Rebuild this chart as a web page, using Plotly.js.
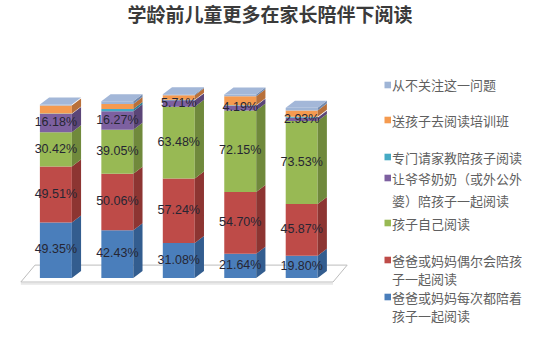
<!DOCTYPE html>
<html>
<head>
<meta charset="utf-8">
<script src="https://cdn.plot.ly/plotly-3.0.1.min.js"></script>
<style>html,body{margin:0;padding:0;background:#fff;}#chart{width:540px;height:352px;}</style>
</head>
<body>
<div id="chart"></div>
<script>
// ---- data ----
const categories = ['0至3岁', '4至6岁', '7至9岁', '10至12岁', '12岁以上'];
const seriesNames = [
  '爸爸或妈妈每次都陪着<br>孩子一起阅读',
  '爸爸或妈妈偶尔会陪孩<br>子一起阅读',
  '孩子自己阅读',
  '让爷爷奶奶（或外公外<br>婆）陪孩子一起阅读',
  '专门请家教陪孩子阅读',
  '送孩子去阅读培训班',
  '从不关注这一问题'
];
const everyTime   = [49.35, 42.43, 31.08, 21.64, 19.80];
const sometimes   = [49.51, 50.06, 57.24, 54.70, 45.87];
const selfRead    = [30.42, 39.05, 63.48, 72.15, 73.53];
const grandparent = [16.18, 16.27, 5.71, 4.19, 2.93];
const tutor       = [0.5, 2.0, 0.5, 0.5, 0.8];      // estimated (unlabelled)
const training    = [7.0, 4.5, 4.0, 8.0, 5.5];      // estimated (unlabelled)
const noCare      = [0.8, 2.5, 1.0, 1.5, 2.5];      // estimated (unlabelled)
const labelled    = [true, true, true, true, false, false, false];

// ---- styling ----
const series = [everyTime, sometimes, selfRead, grandparent, tutor, training, noCare];
const frontColors = ['#4a7ebb', '#be4b48', '#98b954', '#7d60a0', '#46aac4', '#f59a4f', '#9fb5d6'];
const sideColors  = ['#335d8f', '#8d3532', '#70893c', '#5b4577', '#2f7e93', '#b8703a', '#7289ad'];
const topColor = '#a3b7d8';
const W = 0.52, DX = 0.15, DY = 6.2;

const n = categories.length;
const idx = categories.map((c, i) => i);
const traces = [];
const cum = idx.map(() => 0);
const lx = [], ly = [], lt = [];

series.forEach((vals, s) => {
  const bases = cum.slice();
  traces.push({
    type: 'bar', x: idx, y: vals, base: bases, width: W,
    marker: {color: frontColors[s], line: {width: 0}},
    hoverinfo: 'skip', showlegend: false
  });
  const px = [], py = [];
  vals.forEach((v, i) => {
    const xr = i + W / 2, b = bases[i];
    px.push(xr, xr + DX, xr + DX, xr, xr, null);
    py.push(b, b + DY, b + v + DY, b + v, b, null);
    if (labelled[s]) { lx.push(i); ly.push(b + v / 2); lt.push(v.toFixed(2) + '%'); }
    cum[i] = b + v;
  });
  traces.push({
    type: 'scatter', mode: 'lines', x: px, y: py, fill: 'toself',
    fillcolor: sideColors[s], line: {width: 0}, hoverinfo: 'skip', showlegend: false
  });
});
// top faces
const tx = [], ty = [];
cum.forEach((t, i) => {
  tx.push(i - W / 2, i - W / 2 + DX, i + W / 2 + DX, i + W / 2, i - W / 2, null);
  ty.push(t, t + DY, t + DY, t, t, null);
});
traces.push({type: 'scatter', mode: 'lines', x: tx, y: ty, fill: 'toself',
  fillcolor: topColor, line: {width: 0}, hoverinfo: 'skip', showlegend: false});
// value labels
traces.push({type: 'scatter', mode: 'text', x: lx, y: ly, text: lt,
  textfont: {family: 'Liberation Sans, Arial, sans-serif', size: 12.5, color: '#262633'},
  hoverinfo: 'skip', showlegend: false, cliponaxis: false});

// ---- layout ----
const L = 19, R = 183, T = 75, B = 57, PW = 540 - L - R, PH = 352 - T - B;
const pxX = p => (p - L) / PW;
const pxY = p => (352 - B - p) / PH;

const annotations = categories.map((c, i) => ({
  x: i - 0.1, y: -19, xref: 'x', yref: 'y', text: c, showarrow: false,
  font: {family: 'Noto Sans CJK SC, sans-serif', size: 13, color: '#404040'}
}));
const shapes = [{
  type: 'path', layer: 'below', xref: 'x', yref: 'y',
  path: `M -0.57,-3.5 L -0.34,11.5 L ${n - 1 + 0.74},11.5 L ${n - 1 + 0.51},-3.5 Z`,
  fillcolor: '#ffffff', line: {color: '#bcbcbc', width: 1}
}, {
  type: 'line', layer: 'below', xref: 'x', yref: 'y',
  x0: -0.57, x1: n - 1 + 0.51, y0: -5.2, y1: -5.2,
  line: {color: '#d6d6d6', width: 1}
}];
// manual legend (top to bottom = reverse series order)
const legendY = [85, 120, 157, 178, 223, 260, 297];
const lineGap = [18, 18, 18, 22, 18, 18, 18];
for (let k = 0; k < series.length; k++) {
  const s = series.length - 1 - k;
  const lines = seriesNames[s].split('<br>');
  shapes.push({type: 'rect', xref: 'paper', yref: 'paper',
    x0: pxX(384.5), x1: pxX(391), y0: pxY(legendY[k] + 3.3), y1: pxY(legendY[k] - 3.3),
    fillcolor: frontColors[s], line: {width: 0}});
  lines.forEach((ln, j) => {
    annotations.push({xref: 'paper', yref: 'paper', x: pxX(390), y: pxY(legendY[k] + j * lineGap[k]),
      xanchor: 'left', yanchor: 'middle', text: ln, showarrow: false,
      font: {family: 'Noto Sans CJK SC, sans-serif', size: 13, color: '#5f5f5f'}});
  });
}

const layout = {
  width: 540, height: 352,
  margin: {l: L, r: R, t: T, b: B, pad: 0},
  paper_bgcolor: '#ffffff', plot_bgcolor: 'rgba(0,0,0,0)',
  barmode: 'overlay', showlegend: false,
  title: {text: '学龄前儿童更多在家长陪伴下阅读', x: 0.5, xanchor: 'center', y: 0.955, yanchor: 'middle',
    font: {family: 'Noto Sans CJK SC, sans-serif', size: 19, color: '#3a3a3a', weight: 'bold'}},
  xaxis: {range: [-0.6, 4.9], visible: false, fixedrange: true},
  yaxis: {range: [-15, 180], visible: false, fixedrange: true},
  annotations: annotations, shapes: shapes
};
Plotly.newPlot('chart', traces, layout, {displayModeBar: false, staticPlot: true});
</script>
</body>
</html>
